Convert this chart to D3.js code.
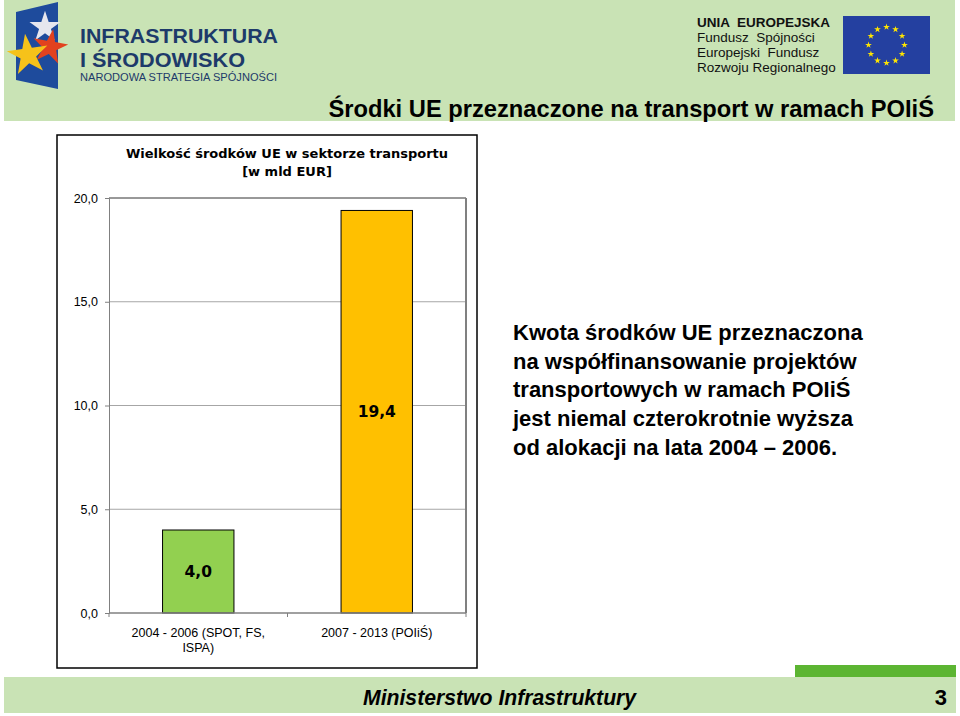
<!DOCTYPE html>
<html>
<head>
<meta charset="utf-8">
<script src="https://cdn.jsdelivr.net/npm/d3@7"></script>
<style>
  html, body { margin: 0; padding: 0; background: #ffffff; }
  svg { display: block; }
</style>
</head>
<body>
<svg id="chart" width="960" height="716"></svg>
<script>
// ---- data ----
const categories = ["2004 - 2006 (SPOT, FS,\nISPA)", "2007 - 2013 (POIiŚ)"];
const values = [4.0, 19.4];
const valueLabels = ["4,0", "19,4"];
const barColors = ["#92d050", "#ffc000"];
const yTicks = [0, 5, 10, 15, 20];
const yTickLabels = ["0,0", "5,0", "10,0", "15,0", "20,0"];
const pageTitle = "Środki UE przeznaczone na transport w ramach POIiŚ";
const chartTitle = ["Wielkość środków UE w sektorze transportu", "[w mld EUR]"];
const sideText = [
  "Kwota środków UE przeznaczona",
  "na współfinansowanie projektów",
  "transportowych w ramach POIiŚ",
  "jest niemal czterokrotnie wyższa",
  "od alokacji na lata 2004 – 2006."
];
const euText = ["UNIA  EUROPEJSKA", "Fundusz  Spójności", "Europejski  Fundusz", "Rozwoju Regionalnego"];
const logoText = ["INFRASTRUKTURA", "I ŚRODOWISKO", "NARODOWA STRATEGIA SPÓJNOŚCI"];
const footerText = "Ministerstwo Infrastruktury";
const pageNumber = "3";

const svg = d3.select("#chart");
const F = "'Liberation Sans', Arial, sans-serif";

// ---- header band ----
svg.append("rect").attr("x", 4).attr("y", 0).attr("width", 951).attr("height", 121).attr("fill", "#c9e3b5");

// left logo
const logo = svg.append("g");
logo.append("path")
  .attr("d", "M16,12 L58,2 L58,89 L16,80 Z")
  .attr("fill", "#1e4b9c");
const star = d3.symbol().type(d3.symbolStar);
logo.append("path").attr("d", star.size(300)()).attr("transform", "translate(45,27)").attr("fill", "#e6e6ee");
logo.append("path").attr("d", star.size(380)()).attr("transform", "translate(50,47) rotate(10)").attr("fill", "#e2421e");
logo.append("path").attr("d", star.size(520)()).attr("transform", "translate(28,55) rotate(-8)").attr("fill", "#f6c21a");
logo.append("text").attr("x", 80).attr("y", 43).text(logoText[0])
  .attr("textLength", 198).attr("lengthAdjust", "spacingAndGlyphs")
  .attr("font-family", F).attr("font-size", 21).attr("font-weight", "bold").attr("fill", "#1d3a6a");
logo.append("text").attr("x", 80).attr("y", 67).text(logoText[1])
  .attr("textLength", 165).attr("lengthAdjust", "spacingAndGlyphs")
  .attr("font-family", F).attr("font-size", 21).attr("font-weight", "bold").attr("fill", "#1d3a6a");
logo.append("text").attr("x", 80).attr("y", 81).text(logoText[2])
  .attr("textLength", 197).attr("lengthAdjust", "spacingAndGlyphs")
  .attr("font-family", F).attr("font-size", 10.5).attr("fill", "#1d3a6a");

// right EU logo
const eu = svg.append("g");
euText.forEach((t, i) => {
  eu.append("text").attr("x", 697).attr("y", 27 + i * 15).text(t)
    .attr("font-family", F).attr("font-size", 13.5)
    .attr("font-weight", i === 0 ? "bold" : "normal").attr("fill", "#111")
    .attr("xml:space", "preserve").style("white-space", "pre");
});
eu.append("rect").attr("x", 843).attr("y", 16).attr("width", 87).attr("height", 58).attr("fill", "#2440a0");
d3.range(12).forEach(i => {
  const a = i * Math.PI / 6;
  eu.append("path").attr("d", d3.symbol().type(d3.symbolStar).size(14)())
    .attr("transform", `translate(${886.5 + 18 * Math.sin(a)},${45 - 18 * Math.cos(a)})`)
    .attr("fill", "#ffe500");
});

// page title
svg.append("text").attr("x", 934).attr("y", 117).attr("text-anchor", "end").text(pageTitle)
  .attr("font-family", F).attr("font-size", 23.7).attr("font-weight", "bold").attr("fill", "#000");

// ---- chart frame ----
svg.append("rect").attr("x", 57).attr("y", 135).attr("width", 420).attr("height", 533)
  .attr("fill", "#fff").attr("stroke", "#000").attr("stroke-width", 1.5);

chartTitle.forEach((t, i) => {
  svg.append("text").attr("x", 287).attr("y", 158 + i * 18).attr("text-anchor", "middle").text(t)
    .attr("font-family", "'DejaVu Sans', sans-serif").attr("font-size", 13).attr("font-weight", "bold").attr("fill", "#000");
});

const plot = { left: 109, right: 466, top: 198, bottom: 613 };
const y = d3.scaleLinear().domain([0, 20]).range([plot.bottom, plot.top]);
const x = d3.scaleBand().domain(categories).range([plot.left, plot.right]).padding(0);

// gridlines
svg.append("g").selectAll("line").data(yTicks.filter(v => v > 0 && v < 20)).join("line")
  .attr("x1", plot.left).attr("x2", plot.right)
  .attr("y1", d => y(d)).attr("y2", d => y(d))
  .attr("stroke", "#a6a6a6").attr("stroke-width", 1);

// plot area border
svg.append("line").attr("x1", plot.left).attr("x2", plot.right).attr("y1", plot.top).attr("y2", plot.top)
  .attr("stroke", "#333").attr("stroke-width", 1);
svg.append("line").attr("x1", plot.right).attr("x2", plot.right).attr("y1", plot.top).attr("y2", plot.bottom)
  .attr("stroke", "#808080").attr("stroke-width", 2);

// bars
const bw = x.step() * 0.4;
svg.append("g").selectAll("rect").data(values).join("rect")
  .attr("x", (d, i) => x(categories[i]) + (x.step() - bw) / 2)
  .attr("width", bw)
  .attr("y", d => y(d))
  .attr("height", d => y(0) - y(d))
  .attr("fill", (d, i) => barColors[i])
  .attr("stroke", "#000").attr("stroke-width", 1);

svg.append("g").selectAll("text").data(values).join("text")
  .attr("x", (d, i) => x(categories[i]) + x.step() / 2)
  .attr("y", d => (y(d) + y(0)) / 2)
  .attr("dy", "0.35em")
  .attr("text-anchor", "middle")
  .text((d, i) => valueLabels[i])
  .attr("font-family", "'DejaVu Sans', sans-serif").attr("font-size", 15.5).attr("font-weight", "bold")
  .attr("fill", "#000");

// y axis
const yAxis = d3.axisLeft(y).tickValues(yTicks).tickSize(4).tickPadding(7)
  .tickFormat((d, i) => yTickLabels[i]);
const yg = svg.append("g").attr("transform", `translate(${plot.left},0)`).call(yAxis);
yg.select(".domain").attr("stroke", "#808080");
yg.selectAll(".tick line").attr("stroke", "#808080");
yg.selectAll("text").attr("font-family", F).attr("font-size", 12.5).attr("fill", "#000");

// x axis
const xg = svg.append("g").attr("transform", `translate(0,${plot.bottom})`);
xg.append("line").attr("x1", plot.left).attr("x2", plot.right).attr("y1", 0).attr("y2", 0)
  .attr("stroke", "#808080").attr("stroke-width", 1.5);
const bounds = categories.map(c => x(c)).concat([plot.right]);
xg.selectAll("line.tk").data(bounds).join("line").attr("class", "tk")
  .attr("x1", d => d).attr("x2", d => d).attr("y1", 0).attr("y2", 4)
  .attr("stroke", "#808080");
categories.forEach(c => {
  const t = xg.append("text").attr("x", x(c) + x.step() / 2).attr("y", 24)
    .attr("text-anchor", "middle").attr("font-family", F).attr("font-size", 12.5).attr("fill", "#000");
  c.split("\n").forEach((line, j) => {
    t.append("tspan").attr("x", x(c) + x.step() / 2).attr("dy", j === 0 ? 0 : 15).text(line);
  });
});

// ---- side text ----
sideText.forEach((t, i) => {
  svg.append("text").attr("x", 513).attr("y", 340 + i * 28.7).text(t)
    .attr("font-family", F).attr("font-size", 22).attr("font-weight", "bold").attr("fill", "#000");
});

// ---- footer ----
svg.append("rect").attr("x", 795).attr("y", 665).attr("width", 161).attr("height", 12).attr("fill", "#5cb532");
svg.append("rect").attr("x", 4).attr("y", 677).attr("width", 952).attr("height", 36).attr("fill", "#c9e3b5");
svg.append("text").attr("x", 363).attr("y", 705).text(footerText)
  .attr("font-family", F).attr("font-size", 21.2).attr("font-weight", "bold").attr("font-style", "italic").attr("fill", "#000");
svg.append("text").attr("x", 947).attr("y", 705).attr("text-anchor", "end").text(pageNumber)
  .attr("font-family", F).attr("font-size", 22).attr("font-weight", "bold").attr("fill", "#000");
</script>
</body>
</html>
